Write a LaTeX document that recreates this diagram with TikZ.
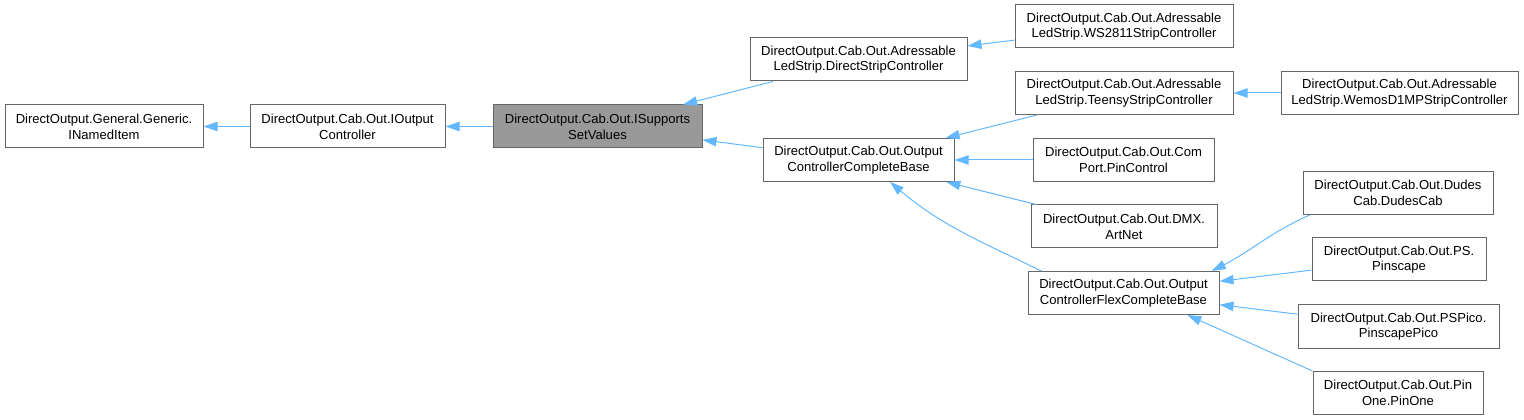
\documentclass[tikz,border=0pt]{standalone}
\usepackage{fontspec}
\setmainfont{Liberation Sans}
\usetikzlibrary{arrows.meta}
\definecolor{EdgeClr}{HTML}{63B8FF}
\definecolor{BoxClr}{HTML}{666666}
\definecolor{CurClr}{HTML}{999999}

\begin{document}
\begin{tikzpicture}[x=0.75pt,y=-0.75pt,
  cls/.style={draw=BoxClr,line width=0.75pt,fill=white,align=center,inner sep=0pt,
    minimum height=32.25pt,minimum width=#1*0.75pt,font=\fontsize{9.8}{11.8}\selectfont},
  cur/.style={fill=CurClr},
  edge/.style={draw=EdgeClr,line width=0.75pt,-{Triangle[length=10.5pt,width=7pt]}}]
\useasboundingbox (0,0) rectangle (1524,420);

\node[cls=198] (NI) at (104,126.5) {DirectOutput.General.Generic.\\INamedItem};
\node[cls=195] (OC) at (347.5,126.5) {DirectOutput.Cab.Out.IOutput\\Controller};
\node[cls=209,cur] (SV) at (597.5,126.5) {DirectOutput.Cab.Out.ISupports\\SetValues};

\node[cls=217] (DS) at (858.5,59.5) {DirectOutput.Cab.Out.Adressable\\LedStrip.DirectStripController};
\node[cls=191] (CB) at (858.5,160) {DirectOutput.Cab.Out.Output\\ControllerCompleteBase};

\node[cls=218] (WS) at (1124,26.5) {DirectOutput.Cab.Out.Adressable\\LedStrip.WS2811StripController};
\node[cls=218] (TS) at (1124,93) {DirectOutput.Cab.Out.Adressable\\LedStrip.TeensyStripController};
\node[cls=181] (CP) at (1123.5,160) {DirectOutput.Cab.Out.Com\\Port.PinControl};
\node[cls=186] (AN) at (1124,226.5) {DirectOutput.Cab.Out.DMX.\\ArtNet};
\node[cls=191] (FB) at (1123.5,293) {DirectOutput.Cab.Out.Output\\ControllerFlexCompleteBase};

\node[cls=237] (WM) at (1399.5,93) {DirectOutput.Cab.Out.Adressable\\LedStrip.WemosD1MPStripController};
\node[cls=190] (DC) at (1398,193) {DirectOutput.Cab.Out.Dudes\\Cab.DudesCab};
\node[cls=174] (PS) at (1399,259.5) {DirectOutput.Cab.Out.PS.\\Pinscape};
\node[cls=201] (PP) at (1398.5,326.5) {DirectOutput.Cab.Out.PSPico.\\PinscapePico};
\node[cls=170] (PO) at (1398,393) {DirectOutput.Cab.Out.Pin\\One.PinOne};

\draw[edge] (OC) -- (NI);
\draw[edge] (SV) -- (OC);
\draw[edge] (DS) -- (SV);
\draw[edge] (CB) -- (SV);
\draw[edge] (WS) -- (DS);
\draw[edge] (WM) -- (TS);
\draw[edge] (TS) -- (CB);
\draw[edge] (CP) -- (CB);
\draw[edge] (AN) -- (CB);
\draw[edge] (FB.165) to[out=154,in=-40] (CB.325);
\draw[edge] (DC.194) to[out=204,in=27] (FB.14);
\draw[edge] (PS) -- (FB);
\draw[edge] (PP) -- (FB);
\draw[edge] (PO.north west) -- (FB.341);

\end{tikzpicture}
\end{document}
